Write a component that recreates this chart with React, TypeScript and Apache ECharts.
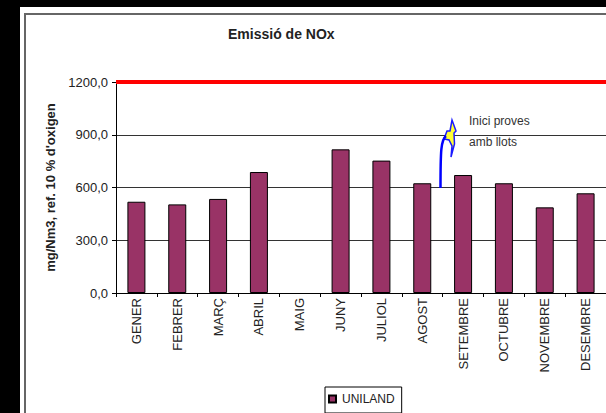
import React, { useEffect, useRef } from "react";
import * as echarts from "echarts";

const months = [
  "GENER", "FEBRER", "MARÇ", "ABRIL", "MAIG", "JUNY",
  "JULIOL", "AGOST", "SETEMBRE", "OCTUBRE", "NOVEMBRE", "DESEMBRE",
];
const unilandValues: (number | null)[] = [
  519, 504, 535, 688, null, 817, 753, 624, 671, 624, 487, 567,
];
const emissionLimit = 1200;
const yTicks = { min: 0, max: 1200, interval: 300 };

const FONT = "'Liberation Sans', Arial, sans-serif";
const TEXT = "#222";

export default function App() {
  const ref = useRef<HTMLDivElement>(null);

  useEffect(() => {
    if (!ref.current) return;
    const chart = echarts.init(ref.current, null, { renderer: "svg" });
    chart.setOption({
      animation: false,
      backgroundColor: "transparent",
      textStyle: { fontFamily: FONT },
      title: {
        text: "Emissió de NOx",
        left: 228,
        top: 27,
        padding: 0,
        textStyle: { fontFamily: FONT, fontSize: 14, fontWeight: "bold", color: TEXT },
      },
      legend: {
        data: ["UNILAND"],
        left: 325,
        top: 387,
        padding: [6, 7, 8, 3],
        itemGap: 0,
        itemWidth: 7,
        itemHeight: 7,
        icon: "rect",
        borderColor: "#000",
        borderWidth: 1,
        backgroundColor: "#fff",
        textStyle: { fontFamily: FONT, fontSize: 12, color: TEXT, padding: [0, 0, 0, 1] },
      },
      grid: { left: 116, top: 82, width: 498, height: 211, containLabel: false },
      xAxis: {
        type: "category",
        data: months,
        axisLine: { lineStyle: { color: "#000", width: 1 } },
        axisTick: { show: true, length: 4, lineStyle: { color: "#000" } },
        axisLabel: {
          rotate: 90,
          margin: 5,
          fontSize: 13,
          color: TEXT,
          fontFamily: FONT,
        },
      },
      yAxis: {
        type: "value",
        min: yTicks.min,
        max: yTicks.max,
        interval: yTicks.interval,
        name: "mg/Nm3, ref. 10 % d'oxigen",
        nameLocation: "middle",
        nameGap: 58,
        nameTextStyle: { fontFamily: FONT, fontSize: 13, fontWeight: "bold", color: TEXT },
        axisLine: { show: true, lineStyle: { color: "#000", width: 1 } },
        axisTick: { show: true, length: 4, lineStyle: { color: "#000" } },
        axisLabel: {
          margin: 8,
          fontSize: 13,
          color: TEXT,
          fontFamily: FONT,
          formatter: (v: number) => v.toFixed(1).replace(".", ","),
        },
        splitLine: { show: true, lineStyle: { color: "#333", width: 1 } },
      },
      series: [
        {
          name: "UNILAND",
          type: "bar",
          data: unilandValues,
          barWidth: 18,
          itemStyle: { color: "#993366", borderColor: "#000", borderWidth: 1 },
          markLine: {
            silent: true,
            symbol: "none",
            label: { show: false },
            lineStyle: { color: "#ff0000", width: 4, type: "solid" },
            data: [{ yAxis: emissionLimit }],
          },
        },
      ],
      graphic: [
        // curved callout arrow marking the start of the sludge trials
        {
          type: "polygon",
          shape: {
            points: [
              [452, 120], [456, 131], [454, 133], [454.5, 144], [451, 157],
              [452, 146], [449, 140], [444, 139], [447, 131], [450, 131],
            ],
          },
          style: { fill: "#ffff33", stroke: "#1a1aff", lineWidth: 1.5 },
          z: 10,
        },
        {
          type: "bezierCurve",
          shape: { x1: 440.5, y1: 188, x2: 446, y2: 136, cpx1: 440.5, cpy1: 150, cpx2: 441, cpy2: 140 },
          style: { stroke: "#0000ff", lineWidth: 2.5, fill: "none" },
          z: 11,
        },
        {
          type: "text",
          x: 469,
          y: 121,
          style: { text: "Inici proves", fontFamily: FONT, fontSize: 12, fill: "#333", verticalAlign: "middle" },
          z: 10,
        },
        {
          type: "text",
          x: 469,
          y: 142,
          style: { text: "amb llots", fontFamily: FONT, fontSize: 12, fill: "#333", verticalAlign: "middle" },
          z: 10,
        },
      ],
    });
    return () => chart.dispose();
  }, []);

  return (
    <div style={{ position: "fixed", left: 0, top: 0, width: 606, height: 413, background: "#000", overflow: "hidden" }}>
      <div style={{ position: "absolute", left: 20, top: 7, right: 0, bottom: 0, background: "#fff" }} />
      <div
        style={{
          position: "absolute",
          left: 24,
          top: 13,
          width: 700,
          height: 500,
          borderLeft: "2px solid #666",
          borderTop: "2px solid #666",
        }}
      />
      <div ref={ref} style={{ position: "absolute", left: 0, top: 0, width: 606, height: 413 }} />
    </div>
  );
}
